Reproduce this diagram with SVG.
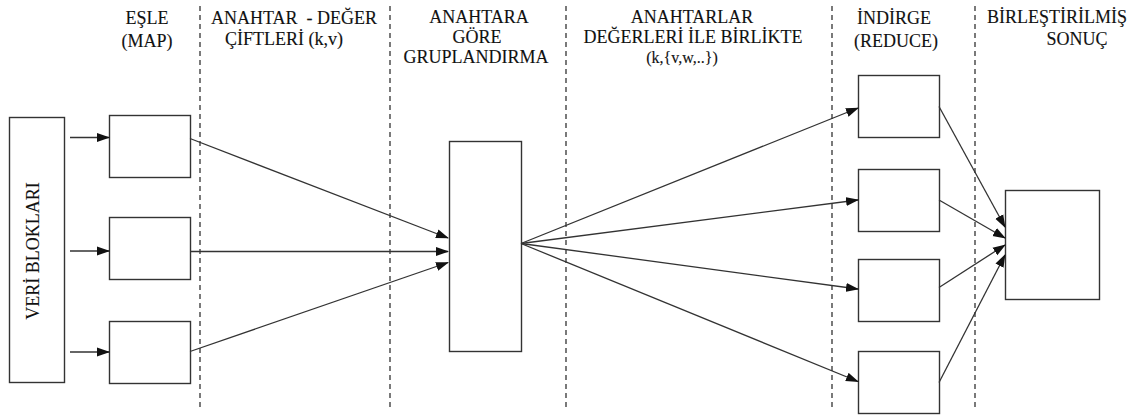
<svg xmlns="http://www.w3.org/2000/svg" width="1137" height="416" viewBox="0 0 1137 416">
  <style>
    .box { fill: #fff; stroke: #333; stroke-width: 1.4; }
    .sep { stroke: #333; stroke-width: 1.3; stroke-dasharray: 5 4; fill: none; }
    .edge { stroke: #333; stroke-width: 1.3; fill: none; marker-end: url(#arrow); }
    .hd { font-family: "Liberation Serif", "Times New Roman", "DejaVu Serif", serif; font-size: 18px; fill: #111; stroke: #111; stroke-width: 0.12; text-anchor: middle; }
  </style>
  <defs>
    <marker id="arrow" markerUnits="userSpaceOnUse" markerWidth="13" markerHeight="10" viewBox="0 0 13 10" refX="12" refY="5" orient="auto">
      <path d="M0,0.5 L13,5 L0,9.5 Z" fill="#111"/>
    </marker>
  </defs>
  <rect width="1137" height="416" fill="#fff"/>

  <!-- stage separators -->
  <g id="separators">
    <line class="sep" x1="200" y1="6" x2="200" y2="410"/>
    <line class="sep" x1="390" y1="6" x2="390" y2="410"/>
    <line class="sep" x1="566" y1="6" x2="566" y2="410"/>
    <line class="sep" x1="832" y1="6" x2="832" y2="410"/>
    <line class="sep" x1="975" y1="6" x2="975" y2="410"/>
  </g>

  <!-- stage headings -->
  <g id="headings">
    <text class="hd" x="147" y="24">EŞLE</text>
    <text class="hd" x="147" y="47">(MAP)</text>
    <text class="hd" x="294" y="24" xml:space="preserve">ANAHTAR  - DEĞER</text>
    <text class="hd" x="284" y="45">ÇİFTLERİ (k,v)</text>
    <text class="hd" x="479" y="23">ANAHTARA</text>
    <text class="hd" x="477" y="43">GÖRE</text>
    <text class="hd" x="476" y="63">GRUPLANDIRMA</text>
    <text class="hd" x="692" y="23">ANAHTARLAR</text>
    <text class="hd" x="693" y="43">DEĞERLERİ İLE BİRLİKTE</text>
    <text class="hd" x="682" y="63" style="font-size:16px">(k,{v,w,..})</text>
    <text class="hd" x="894" y="24">İNDİRGE</text>
    <text class="hd" x="896" y="47">(REDUCE)</text>
    <text class="hd" x="1057" y="23">BİRLEŞTİRİLMİŞ</text>
    <text class="hd" x="1077" y="45">SONUÇ</text>
  </g>

  <!-- input data blocks -->
  <g id="data-blocks">
    <rect class="box" x="9.5" y="117.5" width="55" height="265"/>
    <text class="hd" transform="translate(39 251) rotate(-90)">VERİ BLOKLARI</text>
  </g>

  <!-- map tasks -->
  <g id="map-1"><rect class="box" x="109.5" y="115.5" width="81" height="62"/></g>
  <g id="map-2"><rect class="box" x="109.5" y="217.5" width="81" height="62"/></g>
  <g id="map-3"><rect class="box" x="109.5" y="321.5" width="81" height="62"/></g>

  <!-- grouping by key -->
  <g id="group-by-key"><rect class="box" x="449.5" y="141.5" width="72" height="210"/></g>

  <!-- reduce tasks -->
  <g id="reduce-1"><rect class="box" x="858.5" y="75.5" width="81" height="62"/></g>
  <g id="reduce-2"><rect class="box" x="858.5" y="169.5" width="81" height="62"/></g>
  <g id="reduce-3"><rect class="box" x="858.5" y="259.5" width="81" height="62"/></g>
  <g id="reduce-4"><rect class="box" x="858.5" y="351.5" width="81" height="62"/></g>

  <!-- merged result -->
  <g id="result"><rect class="box" x="1005.5" y="190.5" width="94" height="109"/></g>

  <!-- connectors -->
  <g id="connectors">
    <line class="edge" x1="70" y1="137.5" x2="109" y2="137.5"/>
    <line class="edge" x1="70" y1="251" x2="109" y2="251"/>
    <line class="edge" x1="70" y1="352" x2="109" y2="352"/>

    <line class="edge" x1="190" y1="138.5" x2="448" y2="238"/>
    <line class="edge" x1="190" y1="251.5" x2="448" y2="251.5"/>
    <line class="edge" x1="190" y1="351.5" x2="448" y2="262.5"/>

    <line class="edge" x1="521" y1="243.5" x2="858" y2="108"/>
    <line class="edge" x1="521" y1="243.5" x2="858" y2="200"/>
    <line class="edge" x1="521" y1="243.5" x2="858" y2="289"/>
    <line class="edge" x1="521" y1="243.5" x2="858" y2="381.5"/>

    <line class="edge" x1="939" y1="106.5" x2="1005" y2="227"/>
    <line class="edge" x1="939" y1="200" x2="1005" y2="238"/>
    <line class="edge" x1="939" y1="287.5" x2="1005" y2="245"/>
    <line class="edge" x1="939" y1="382.5" x2="1005" y2="255"/>
  </g>
</svg>
